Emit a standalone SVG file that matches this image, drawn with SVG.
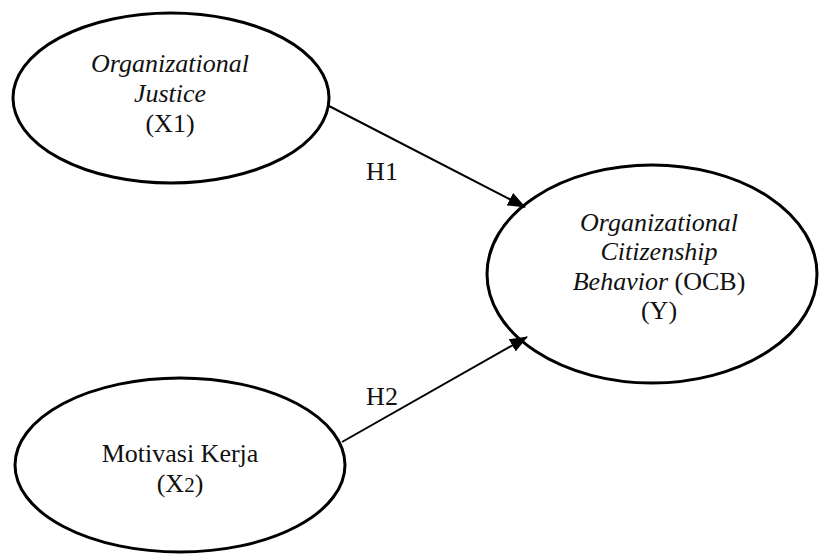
<svg xmlns="http://www.w3.org/2000/svg" width="821" height="555" viewBox="0 0 821 555">
<style>
.node ellipse{fill:#fff;stroke:#000;stroke-width:3}
text{font-size:26px;fill:#111;text-anchor:middle}
.it{font-style:italic}
.conn line{stroke:#000;stroke-width:2}
</style>
<defs>
<marker id="ah" markerUnits="userSpaceOnUse" markerWidth="18" markerHeight="14" refX="17" refY="7" orient="auto">
<path d="M0,0 L18,7 L0,14 Z" fill="#000"/>
</marker>
</defs>
<g font-family="'Liberation Serif', 'Times New Roman', 'DejaVu Serif', serif">
<g id="x1" class="node">
<ellipse cx="171" cy="98" rx="158" ry="85"/>
<text x="170" y="72" class="it">Organizational</text>
<text x="170" y="102" class="it">Justice</text>
<text x="170" y="132">(X1)</text>
</g>
<g id="y" class="node">
<ellipse cx="652" cy="274" rx="165" ry="109"/>
<text x="659" y="231" class="it">Organizational</text>
<text x="659" y="260" class="it">Citizenship</text>
<text x="659" y="290"><tspan class="it">Behavior</tspan> (OCB)</text>
<text x="659" y="319">(Y)</text>
</g>
<g id="x2" class="node">
<ellipse cx="180" cy="465" rx="165" ry="87"/>
<text x="180" y="462">Motivasi Kerja</text>
<text x="180" y="492">(X<tspan font-size="21px">2</tspan>)</text>
</g>
<g id="connectors" class="conn">
<line x1="329" y1="106" x2="525" y2="207" marker-end="url(#ah)"/>
<line x1="342" y1="442" x2="527" y2="337" marker-end="url(#ah)"/>
<text x="382" y="180">H1</text>
<text x="382" y="405">H2</text>
</g>
</g>
</svg>
